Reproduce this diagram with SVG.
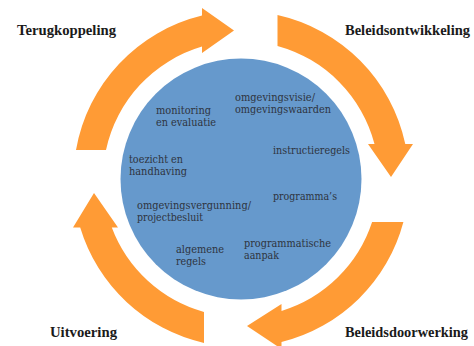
<svg xmlns="http://www.w3.org/2000/svg" width="474" height="346" viewBox="0 0 474 346">
<style>
.arrow{fill:#FF9B35;stroke:none}
.hub{fill:#6699CC;stroke:none}
.phase{font-family:"Liberation Serif","DejaVu Serif",serif;font-weight:bold;font-size:14.5px;fill:#1a1a1a}
.item{font-family:"DejaVu Serif","Liberation Serif",serif;font-size:10.5px;fill:#2e3440}
</style>
<rect width="474" height="346" fill="#ffffff"/>
<g id="connectors">
<path class="arrow" d="M76,150 A168,168 0 0 1 202,15.6 L202,8 L234,30.5 L202,53 L202,46.6 A138,138 0 0 0 106,150 Z"/>
<path class="arrow" d="M277.5,15 A168,168 0 0 1 405.3,144 L413,144 L391,177 L368,144 L374.5,144 A138,138 0 0 0 277.5,45.9 Z"/>
<path class="arrow" d="M403.4,222 A168,168 0 0 1 281.5,342 L281.5,349 L247,326 L281.5,304 L281.5,310.9 A138,138 0 0 0 372.1,222 Z"/>
<path class="arrow" d="M204,342.9 A168,168 0 0 1 80.2,227.5 L73,227.5 L94,193 L118,227.5 L111.8,227.5 A138,138 0 0 0 204,311.9 Z"/>
</g>
<g id="terugkoppeling"><text class="phase" x="17" y="34.5" textLength="99" lengthAdjust="spacingAndGlyphs">Terugkoppeling</text></g>
<g id="beleidsontwikkeling"><text class="phase" x="345" y="34.5" textLength="125" lengthAdjust="spacingAndGlyphs">Beleidsontwikkeling</text></g>
<g id="uitvoering"><text class="phase" x="50" y="337" textLength="67" lengthAdjust="spacingAndGlyphs">Uitvoering</text></g>
<g id="beleidsdoorwerking"><text class="phase" x="345" y="337" textLength="123" lengthAdjust="spacingAndGlyphs">Beleidsdoorwerking</text></g>
<g id="instrumenten">
<circle class="hub" cx="241" cy="179" r="120.5"/>
<g id="omgevingsvisie"><text class="item" x="235" y="100.5" textLength="80" lengthAdjust="spacingAndGlyphs">omgevingsvisie/</text><text class="item" x="235" y="112.5" textLength="96" lengthAdjust="spacingAndGlyphs">omgevingswaarden</text></g>
<g id="monitoring"><text class="item" x="156" y="114" textLength="55" lengthAdjust="spacingAndGlyphs">monitoring</text><text class="item" x="156" y="126" textLength="60" lengthAdjust="spacingAndGlyphs">en evaluatie</text></g>
<g id="instructieregels"><text class="item" x="273" y="154" textLength="77" lengthAdjust="spacingAndGlyphs">instructieregels</text></g>
<g id="toezicht"><text class="item" x="129" y="163" textLength="54" lengthAdjust="spacingAndGlyphs">toezicht en</text><text class="item" x="129" y="175" textLength="58" lengthAdjust="spacingAndGlyphs">handhaving</text></g>
<g id="programmas"><text class="item" x="273" y="200" textLength="64" lengthAdjust="spacingAndGlyphs">programma’s</text></g>
<g id="omgevingsvergunning"><text class="item" x="137" y="209" textLength="114" lengthAdjust="spacingAndGlyphs">omgevingsvergunning/</text><text class="item" x="137" y="221" textLength="66" lengthAdjust="spacingAndGlyphs">projectbesluit</text></g>
<g id="programmatische"><text class="item" x="244" y="247" textLength="87" lengthAdjust="spacingAndGlyphs">programmatische</text><text class="item" x="244" y="259" textLength="35" lengthAdjust="spacingAndGlyphs">aanpak</text></g>
<g id="algemene"><text class="item" x="176" y="253" textLength="48" lengthAdjust="spacingAndGlyphs">algemene</text><text class="item" x="176" y="265" textLength="30" lengthAdjust="spacingAndGlyphs">regels</text></g>
</g>
</svg>
